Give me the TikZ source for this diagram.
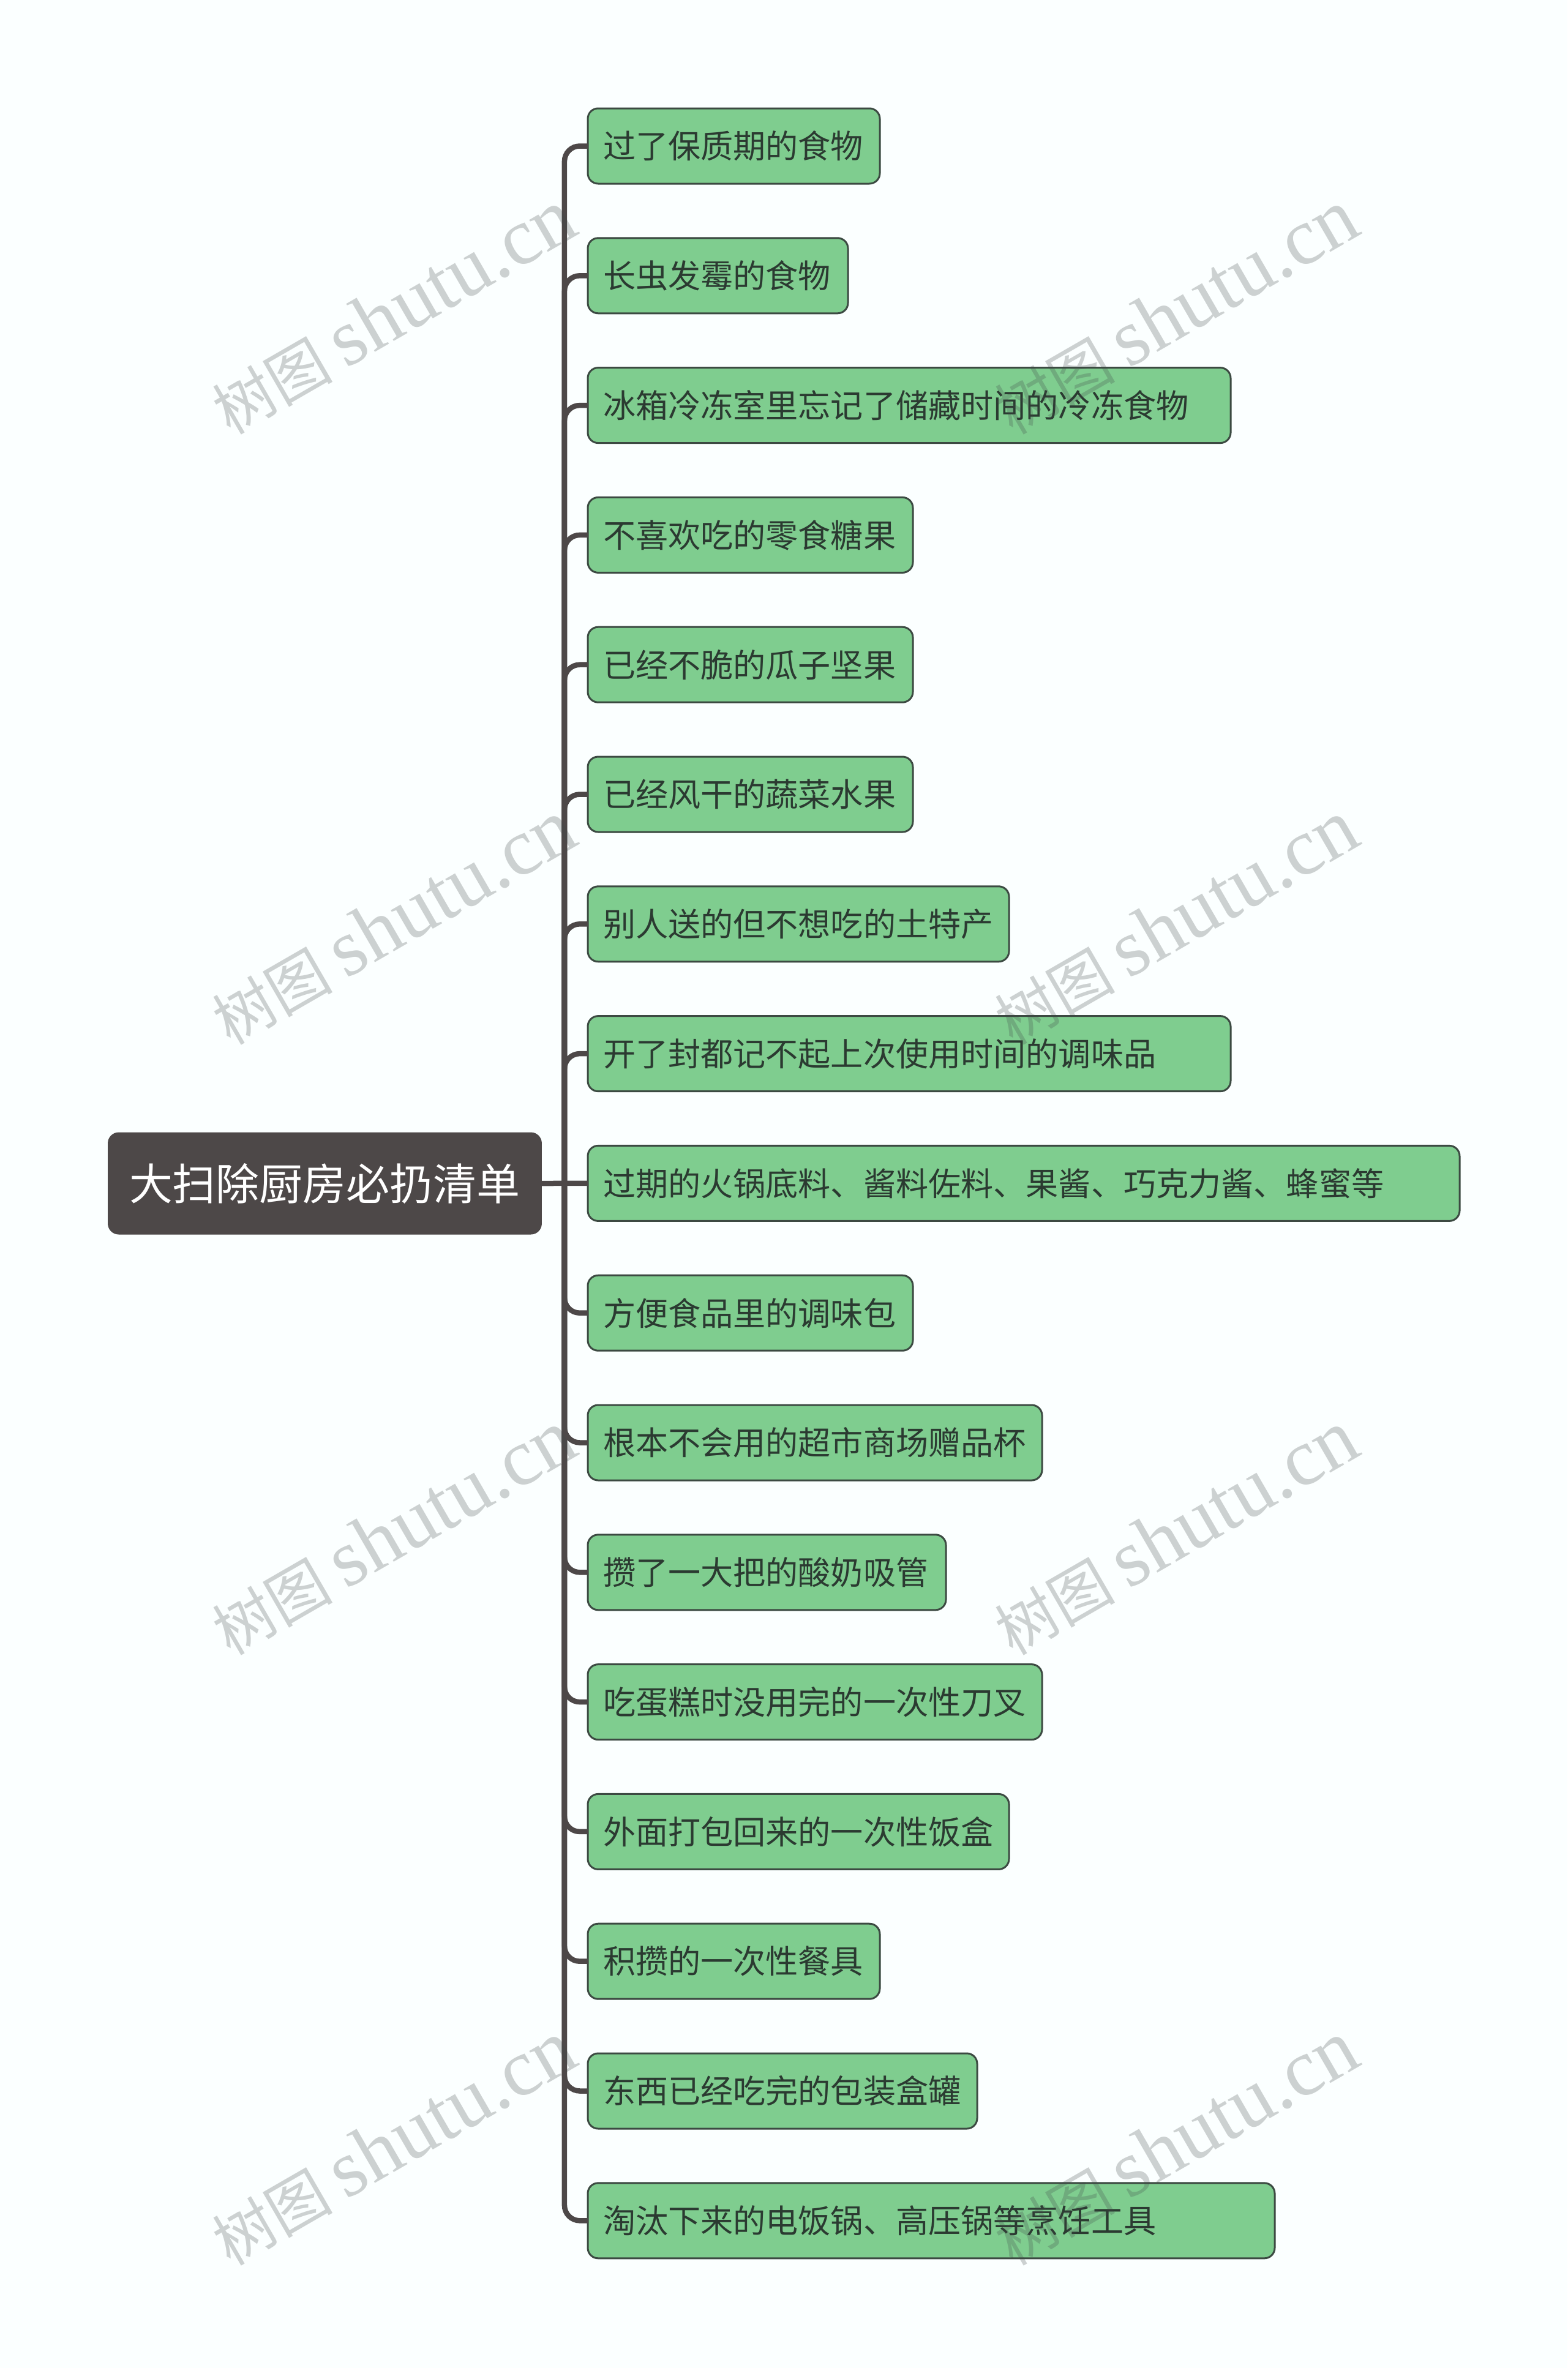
\documentclass[tikz,border=0pt]{standalone}
\usepackage{fontspec}
\setmainfont{Noto Sans CJK SC}
\newfontfamily\markfont{Liberation Serif}
\usetikzlibrary{positioning}
\definecolor{pagebg}{HTML}{FBFFFF}
\definecolor{leafbg}{HTML}{7FCD8F}
\definecolor{leafln}{HTML}{3C4A42}
\definecolor{rootbg}{HTML}{4D4848}
\definecolor{leaftx}{HTML}{2B3A31}
\definecolor{markcl}{HTML}{404848}
\tikzset{
	rootbox/.style={fill=rootbg, text=white, rounded corners=0.18cm, outer sep=0pt, inner xsep=0.35cm, minimum height=1.67cm, font=\fontsize{20.2}{24}\selectfont},
	leaf/.style={draw=leafln, line width=0.03cm, fill=leafbg, text=leaftx, rounded corners=0.17cm, outer sep=0pt, inner xsep=0.25cm, minimum height=1.23cm, align=left, text width=#1, font=\fontsize{15.12}{18}\selectfont},
	next/.style={below=0.888cm of #1.south west, anchor=north west},
	branch/.style={draw=rootbg, line width=0.085cm, rounded corners=0.25cm},
	wmark/.style={text=markcl, text opacity=0.25, rotate=30, font=\fontsize{28}{36}\selectfont}
}
\begin{document}
\begin{tikzpicture}
		\useasboundingbox [fill=pagebg] (0,0) rectangle (25.6,-38.68);
		\node (root) [rootbox, anchor=west] at (1.76,-19.33) {大扫除厨房必扔清单};
		\node (l1) [leaf=4.27cm, anchor=north west] at (9.6,-1.77) {过了保质期的食物};
		\node (l2) [leaf=3.75cm, next=l1] {长虫发霉的食物};
		\node (l3) [leaf=10cm, next=l2] {冰箱冷冻室里忘记了储藏时间的冷冻食物};
		\node (l4) [leaf=4.81cm, next=l3] {不喜欢吃的零食糖果};
		\node (l5) [leaf=4.81cm, next=l4] {已经不脆的瓜子坚果};
		\node (l6) [leaf=4.81cm, next=l5] {已经风干的蔬菜水果};
		\node (l7) [leaf=6.38cm, next=l6] {别人送的但不想吃的土特产};
		\node (l8) [leaf=10cm, next=l7] {开了封都记不起上次使用时间的调味品};
		\node (l9) [leaf=13.74cm, next=l8] {过期的火锅底料、酱料佐料、果酱、巧克力酱、蜂蜜等};
		\node (l10) [leaf=4.81cm, next=l9] {方便食品里的调味包};
		\node (l11) [leaf=6.92cm, next=l10] {根本不会用的超市商场赠品杯};
		\node (l12) [leaf=5.35cm, next=l11] {攒了一大把的酸奶吸管};
		\node (l13) [leaf=6.92cm, next=l12] {吃蛋糕时没用完的一次性刀叉};
		\node (l14) [leaf=6.38cm, next=l13] {外面打包回来的一次性饭盒};
		\node (l15) [leaf=4.27cm, next=l14] {积攒的一次性餐具};
		\node (l16) [leaf=5.86cm, next=l15] {东西已经吃完的包装盒罐};
		\node (l17) [leaf=10.72cm, next=l16] {淘汰下来的电饭锅、高压锅等烹饪工具};
		\coordinate (hub) at ([xshift=0.37cm]root.east);
		\draw [branch] (root.east) -- (l9.west);
		\foreach \n in {l1,l2,l3,l4,l5,l6,l7,l8,l10,l11,l12,l13,l14,l15,l16,l17}
			\draw [branch] (hub) |- (\n.west);
		\foreach \r in {0,1,2,3}
			\foreach \c in {0,1}
				\node (wm\r\c) [wmark] at ({6.42+12.78*\c},{-5.1-9.97*\r}) {树图 {\markfont\fontsize{37.5}{40}\selectfont shutu.cn}};
		\end{tikzpicture}
\end{document}
